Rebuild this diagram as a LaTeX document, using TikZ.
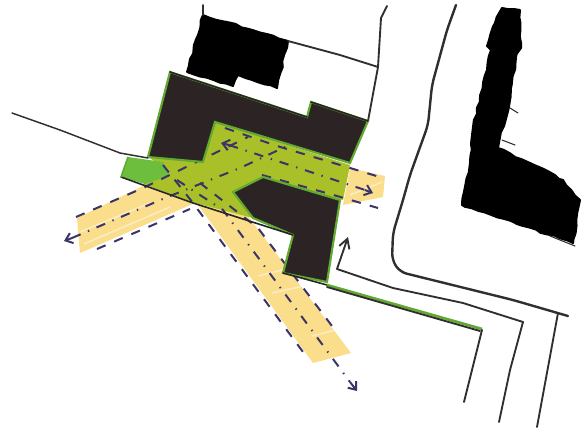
\documentclass[tikz,border=0pt]{standalone}
\usetikzlibrary{arrows.meta, decorations.pathmorphing}
\definecolor{darkroof}{RGB}{44,36,36}
\definecolor{limezone}{RGB}{170,192,40}
\definecolor{grasszone}{RGB}{108,190,60}
\definecolor{edgegreen}{RGB}{96,170,50}
\definecolor{pathyellow}{RGB}{250,222,140}
\definecolor{routeblue}{RGB}{58,52,104}
\definecolor{penline}{RGB}{50,46,46}
\tikzset{
	blob/.style={fill=black, draw=black, line width=1.5pt, line join=round,
		decorate, decoration={random steps, segment length=5pt, amplitude=0.8pt}},
	roof/.style={fill=darkroof, draw=edgegreen, line width=1.6pt, line join=miter},
	roofedge/.style={draw=penline!80!black, line width=1.2pt, line cap=round},
	penstroke/.style={draw=penline, line width=1.4pt, line cap=round, line join=round},
	routeline/.style={draw=routeblue, line width=1.5pt, dash pattern=on 7pt off 7pt},
	routemid/.style={draw=routeblue, line width=1.5pt, dash pattern=on 7pt off 6pt on 1pt off 6pt},
	routetip/.style={draw=routeblue, line width=1.5pt, -{Straight Barb[length=5pt, width=8pt]}},
	streak/.style={draw=white, opacity=0.45, line width=1.2pt}
}
\begin{document}
\begin{tikzpicture}[x=0.75pt, y=-0.75pt]
	\useasboundingbox (0,0) rectangle (582,430);
	\path[blob] (203,15) -- (288,41) -- (277,88) -- (238,75) -- (233,86) -- (187,72) -- cycle;
	\path[blob] (502,8) -- (520,10) -- (521,48) -- (516,57) -- (510,100) -- (498,148) -- (530,163)
		-- (563,180) -- (580,200) -- (573,243) -- (462,205) -- (470,163) -- (473,127)
		-- (487,70) -- (491,50) -- (487,46) -- (495,23) -- cycle;
	\draw[penstroke, line width=0.8pt] (510,108) -- (518,113) (502,140) -- (515,145) (550,236) -- (575,246);
	\draw[penstroke] (203,15) -- (203,5);
	\draw[penstroke] (288,41) -- (340,55) -- (378,67);
	\draw[penstroke] (387,6) -- (381,18) -- (378,67) -- (368,121);
	\draw[penstroke, line width=1.8pt, rounded corners=5pt] (456,5) -- (447,30) -- (432,85) -- (428,125)
		-- (410,175) -- (403,200) -- (393,233) -- (392,260) -- (400,272) -- (513,300) -- (568,316);
	\draw[penstroke] (558,313) -- (537,427);
	\draw[penstroke, rounded corners=2pt] (523,322) -- (510,370) -- (499,422);
	\draw[penstroke] (523,322) -- (463,303) -- (393,288) -- (337,269);
	\draw[penstroke, -{Straight Barb[length=7pt, width=8pt]}] (337,269) -- (348,237);
	\fill[pathyellow] (350,168) -- (385,176) -- (383,197) -- (343,205) -- cycle;
	\fill[pathyellow] (77,218) -- (143,186) -- (195,203) -- (80,253) -- cycle;
	\fill[pathyellow] (198,205) -- (245,212) -- (351,353) -- (313,363) -- cycle;
	\draw[streak] (80,232) -- (150,203) (84,244) -- (170,207);
	\draw[streak] (258,276) -- (290,268) (272,293) -- (330,280) (312,336) -- (348,327);
	\draw[streak] (350,195) -- (382,182);
	\fill[limezone] (215,122) -- (350,165) -- (343,200) -- (263,177) -- (233,192) -- (253,218)
		-- (195,203) -- (143,184) -- (170,174) -- (150,158) -- (203,162) -- cycle;
	\fill[grasszone] (128,157) -- (163,162) -- (170,175) -- (145,184) -- (121,177) -- cycle;
	\draw[routeline] (76,217) -- (143,188) -- (248,137);
	\draw[routeline] (97,249) -- (190,209);
	\draw[routeline] (225,128) -- (277,146) -- (327,161) -- (383,178);
	\draw[routeline] (262,175) -- (337,196) -- (378,208);
	\draw[routeline] (163,165) -- (193,203) -- (303,352);
	\draw[routeline] (200,183) -- (258,228) -- (335,330);
	\draw[routemid] (72,238) -- (165,198) -- (240,168) -- (330,126);
	\draw[routemid] (177,180) -- (223,210) -- (240,233) -- (350,382);
	\draw[routemid] (229,145) -- (365,190);
	\draw[routetip] (72,238) -- (64,241);
	\draw[routetip] (350,382) -- (357,391);
	\draw[routetip] (229,145) -- (221,143);
	\draw[routetip] (365,190) -- (373,193);
	\path[roof] (170,72) -- (307,117) -- (311,102) -- (368,121) -- (350,163) -- (215,122) -- (203,162)
		-- (148,157) -- cycle;
	\path[roof] (263,177) -- (340,200) -- (327,282) -- (283,273) -- (293,235) -- (253,218) -- (233,192) -- cycle;
	\draw[roofedge] (170,72) -- (307,117) (311,102) -- (368,121);
	\draw[roofedge] (121,177) -- (193,203) -- (293,235);
	\draw[roofedge] (283,273) -- (327,285);
	\draw[edgegreen, line width=1.2pt] (128,157) -- (121,177);
	\draw[penstroke, line width=1.1pt] (12,113) -- (60,130) -- (120,153) -- (148,158);
	\draw[edgegreen, line width=2pt] (327,285) -- (482,329);
	\draw[penstroke] (327,287) -- (480,331);
	\draw[penstroke] (482,330) -- (464,402);
\end{tikzpicture}
\end{document}
